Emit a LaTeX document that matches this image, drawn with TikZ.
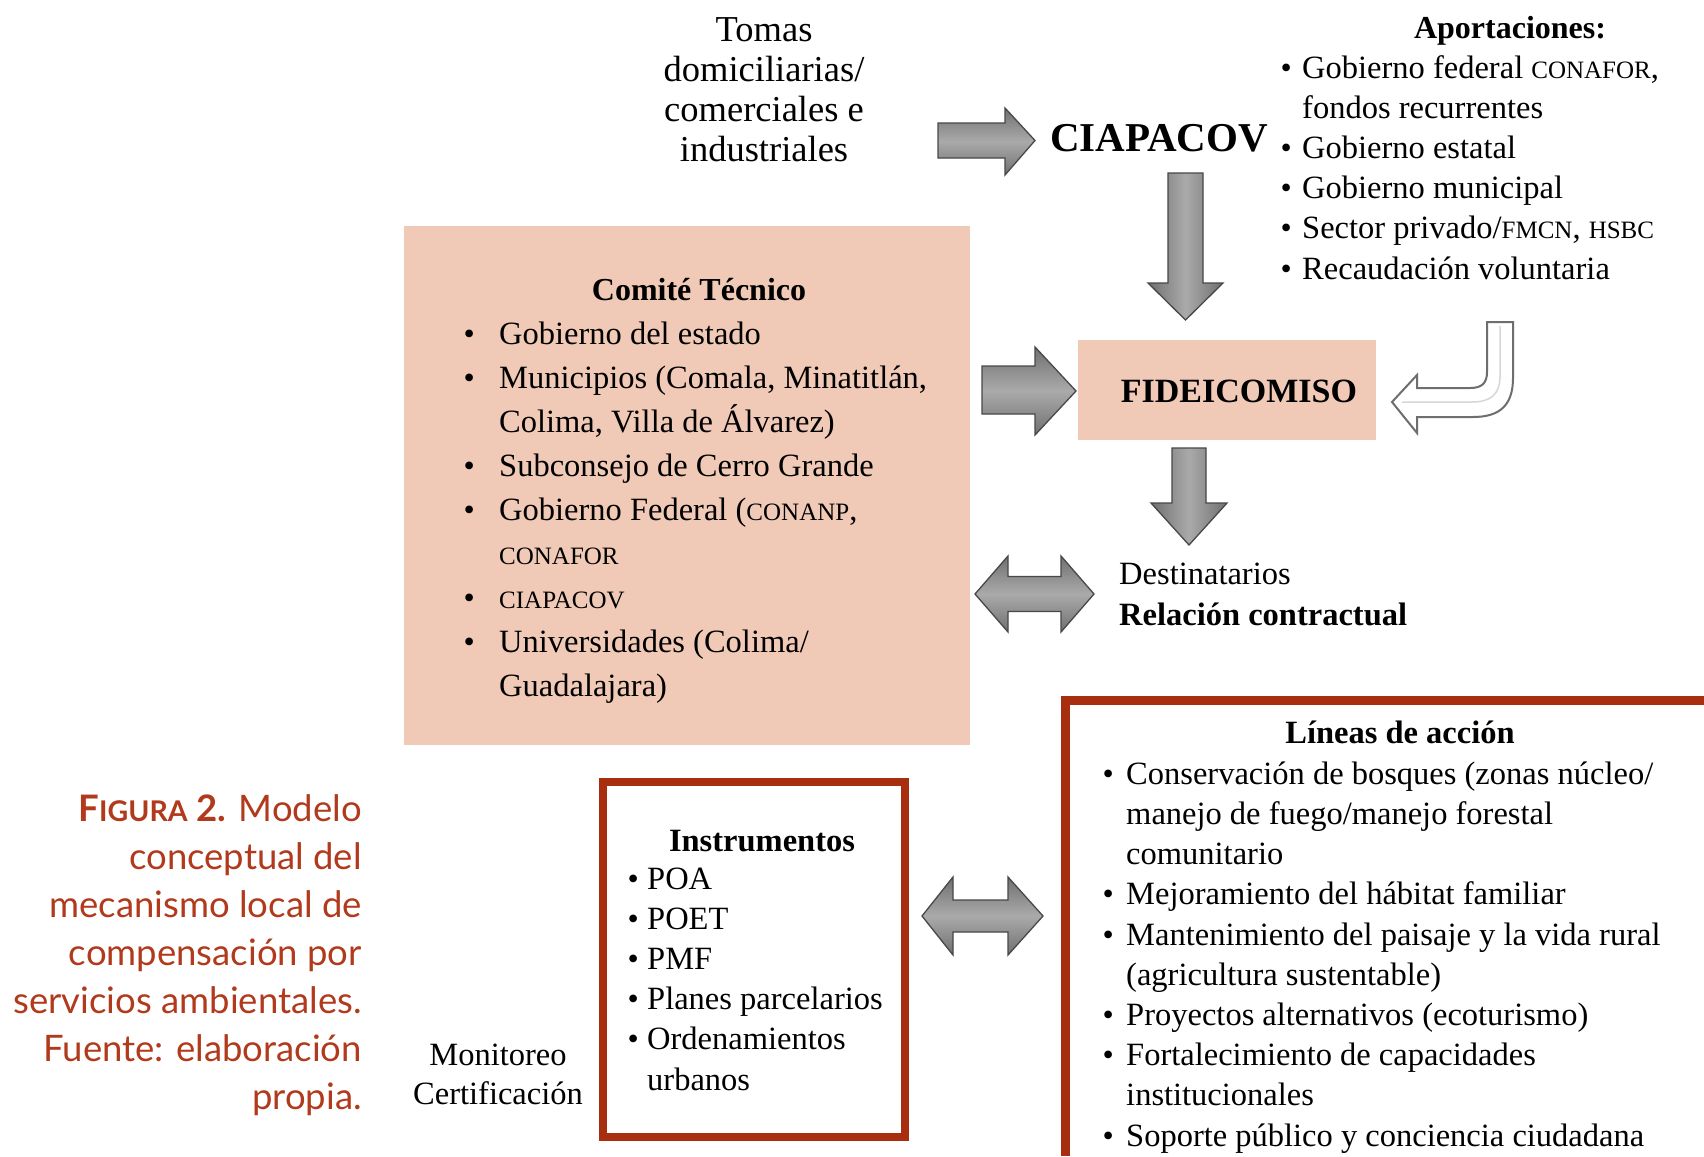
\documentclass[tikz,border=0pt]{standalone}
\usepackage{fontspec}
\setmainfont{Liberation Serif}
\newfontfamily\capfont{Lato}
\definecolor{peach}{RGB}{240,202,182}
\definecolor{boxred}{RGB}{168,46,16}
\definecolor{capred}{RGB}{178,58,28}
\definecolor{arrowedge}{RGB}{72,72,72}
\definecolor{arrowmid}{RGB}{170,170,170}
\definecolor{arrowside}{RGB}{112,112,112}
\definecolor{hollowedge}{RGB}{110,110,110}
\definecolor{hollowin}{RGB}{215,215,215}
\newcommand\smc[1]{{\fontsize{25}{25}\selectfont #1}}
\newcommand\bul[1]{\llap{\makebox[#1][l]{\fontsize{32}{32}\selectfont\textbullet}}}
\begin{document}
\begin{tikzpicture}[x=1pt,y=-1pt,
  txt/.style={inner sep=0pt, align=left, anchor=base west, font=\fontsize{32.5}{40.2}\selectfont},
  ttl/.style={inner sep=0pt, anchor=base, font=\fontsize{32.5}{40}\selectfont\bfseries},
  pbox/.style={fill=peach, inner sep=0pt, anchor=north west},
  rbox/.style={draw=boxred, line width=8pt, inner sep=0pt, anchor=north west},
  hshade/.style={draw=arrowedge, line width=1.3pt, line join=miter, top color=arrowside, bottom color=arrowside, middle color=arrowmid},
  vshade/.style={draw=arrowedge, line width=1.3pt, line join=miter, left color=arrowside, right color=arrowside, middle color=arrowmid},
  hollow/.style={draw=hollowedge, line width=2pt, fill=white}
]
\fill[white] (0,0) rectangle (1704,1156);
\useasboundingbox (0,0) rectangle (1704,1156);

% boxes
\node[pbox, minimum width=566pt, minimum height=519pt] (comite) at (404,226) {};
\node[pbox, minimum width=298pt, minimum height=100pt] (fidei) at (1078,340) {};
\node[rbox, minimum width=302pt, minimum height=355pt] (instr) at (599,778) {};
\coordinate (lineas) at (1065,700);
\draw[boxred, line width=9pt] (1065,1156) -- (lineas) -- (1704,700);

% block arrows
\draw[hshade] (938,123) -- (1005,123) -- (1005,108) -- (1035,140.5) -- (1005,175) -- (1005,158) -- (938,158) -- cycle;
\draw[vshade] (1168,173) -- (1203,173) -- (1203,283) -- (1223,283) -- (1185.5,320) -- (1148,283) -- (1168,283) -- cycle;
\draw[hshade] (982,366) -- (1035,366) -- (1035,347) -- (1076,391) -- (1035,435) -- (1035,414) -- (982,414) -- cycle;
\draw[vshade] (1172,448) -- (1206,448) -- (1206,503) -- (1227,503) -- (1189,545) -- (1151,503) -- (1172,503) -- cycle;
\draw[hshade] (975,594) -- (1008,556) -- (1008,576.5) -- (1061,576.5) -- (1061,556) -- (1094,594) -- (1061,632) -- (1061,611.5) -- (1008,611.5) -- (1008,632) -- cycle;
\draw[hshade] (922,916) -- (953,877) -- (953,900) -- (1008,900) -- (1008,877) -- (1043,916) -- (1008,955) -- (1008,932) -- (953,932) -- (953,955) -- cycle;
\draw[hollow] (1487,322) -- (1513,322) -- (1513,378) .. controls (1513,405) and (1500,417) .. (1473,417) -- (1417,417) -- (1417,433) -- (1392,402) -- (1417,375) -- (1417,388) -- (1470,388) .. controls (1482,388) and (1487,383) .. (1487,372) -- cycle;
\draw[hollowin, line width=1.5pt] (1500,326) -- (1500,376) .. controls (1500,395) and (1490,402) .. (1472,402) -- (1402,402);

% texts (base anchor of a multi-line node = baseline of its last line)
\node[inner sep=0pt, anchor=base, align=center, font=\fontsize{36.5}{40}\selectfont] (tomas) at (764,161)
  {Tomas\\domiciliarias/\\comerciales e\\industriales};
\node[inner sep=0pt, anchor=base, font=\fontsize{41}{41}\selectfont\bfseries] (ciapacov) at (1159,151.5) {CIAPACOV};
\node[ttl, font=\fontsize{32}{40}\selectfont\bfseries] (aporttitle) at (1510,39) {Aportaciones:};
\node[txt] (aportlist) at (1302,279) {\bul{21.6pt}Gobierno federal \smc{CONAFOR},\\fondos recurrentes\\\bul{21.6pt}Gobierno estatal\\\bul{21.6pt}Gobierno municipal\\\bul{21.6pt}Sector privado/\smc{FMCN}, \smc{HSBC}\\\bul{21.6pt}Recaudación voluntaria};

\node[ttl, font=\fontsize{32}{40}\selectfont\bfseries] (comtitle) at (699,300) {Comité Técnico};
\node[txt, font=\fontsize{32.5}{44}\selectfont] (comlist) at (499,696) {\bul{35.6pt}Gobierno del estado\\\bul{35.6pt}Municipios (Comala, Minatitlán,\\Colima, Villa de Álvarez)\\\bul{35.6pt}Subconsejo de Cerro Grande\\\bul{35.6pt}Gobierno Federal (\smc{CONANP},\\\smc{CONAFOR}\\\bul{35.6pt}\smc{CIAPACOV}\\\bul{35.6pt}Universidades (Colima/\\Guadalajara)};

\node[inner sep=0pt, anchor=base, font=\fontsize{34}{40}\selectfont\bfseries] (fideitext) at (1239,402) {FIDEICOMISO};
\node[txt] (destin) at (1119,625) {Destinatarios\\\textbf{Relación contractual}};

\node[ttl] (institle) at (762,851) {Instrumentos};
\node[txt] (inslist) at (647,1090) {\bul{19.6pt}POA\\\bul{19.6pt}POET\\\bul{19.6pt}PMF\\\bul{19.6pt}Planes parcelarios\\\bul{19.6pt}Ordenamientos\\urbanos};
\node[inner sep=0pt, anchor=base, align=center, font=\fontsize{32.5}{39}\selectfont] (monit) at (498,1104) {Monitoreo\\Certificación};

\node[ttl] (lintitle) at (1400,743) {Líneas de acción};
\node[txt] (linlist) at (1126,1146) {\bul{23.6pt}Conservación de bosques (zonas núcleo/\\manejo de fuego/manejo forestal\\comunitario\\\bul{23.6pt}Mejoramiento del hábitat familiar\\\bul{23.6pt}Mantenimiento del paisaje y la vida rural\\(agricultura sustentable)\\\bul{23.6pt}Proyectos alternativos (ecoturismo)\\\bul{23.6pt}Fortalecimiento de capacidades\\institucionales\\\bul{23.6pt}Soporte público y conciencia ciudadana};

\node[inner sep=0pt, anchor=base east, align=right, text=capred, font=\capfont\fontsize{36.5}{48}\selectfont] (caption) at (362,1109)
  {{\bfseries F{\fontsize{28.5}{48}\selectfont IGURA} 2.} Modelo\\conceptual del\\mecanismo local de\\compensación por\\servicios ambientales.\\Fuente: elaboración\\propia.};
\end{tikzpicture}
\end{document}
